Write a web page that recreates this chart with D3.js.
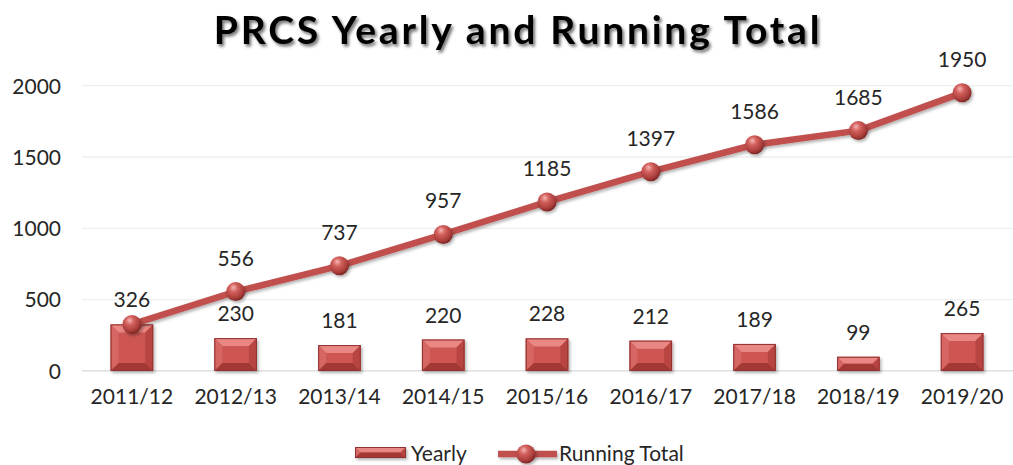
<!DOCTYPE html>
<html><head><meta charset="utf-8">
<script src="https://cdn.jsdelivr.net/npm/d3@7"></script>
<style>
body{margin:0;background:#fff;}
svg{display:block;}
text{font-family:Lato,"Open Sans",sans-serif;fill:#262626;}
</style></head>
<body>
<svg id="c" width="1013" height="465"></svg>
<script>
const categories = ["2011/12","2012/13","2013/14","2014/15","2015/16","2016/17","2017/18","2018/19","2019/20"];
const yearly = [326,230,181,220,228,212,189,99,265];
const runningTotal = [326,556,737,957,1185,1397,1586,1685,1950];
const yTicks = [0,500,1000,1500,2000];
const titleText = "PRCS Yearly and Running Total";
const seriesNames = ["Yearly","Running Total"];

const svg = d3.select("#c");
const defs = svg.append("defs");
const x = d3.scaleBand().domain(categories).range([80,1014]).paddingInner(0.59).paddingOuter(0.295);
const y = d3.scaleLinear().domain([0,2000]).range([370.9,85.7]);
const cx = c => x(c) + x.bandwidth()/2;

// filters & gradients
const ts = defs.append("filter").attr("id","tshadow").attr("x","-10%").attr("y","-30%").attr("width","120%").attr("height","160%");
ts.append("feDropShadow").attr("dx",2).attr("dy",2.5).attr("stdDeviation",1.8).attr("flood-color","#000").attr("flood-opacity",0.55);
const ls = defs.append("filter").attr("id","lshadow").attr("filterUnits","userSpaceOnUse").attr("x",0).attr("y",0).attr("width",1013).attr("height",465);
ls.append("feDropShadow").attr("dx",1.5).attr("dy",2).attr("stdDeviation",1.5).attr("flood-color","#000").attr("flood-opacity",0.3);
const sph = defs.append("radialGradient").attr("id","sphere").attr("cx","40%").attr("cy","35%").attr("r","65%").attr("fx","38%").attr("fy","28%");
sph.append("stop").attr("offset","0%").attr("stop-color","#f6b4b2");
sph.append("stop").attr("offset","35%").attr("stop-color","#d2605d");
sph.append("stop").attr("offset","80%").attr("stop-color","#a83c39");
sph.append("stop").attr("offset","100%").attr("stop-color","#7d2624");

// gridlines
svg.append("g").selectAll("line").data(yTicks).join("line")
  .attr("x1",82).attr("x2",1013).attr("y1",d=>y(d)).attr("y2",d=>y(d))
  .attr("stroke",d=>d===0?"#d9d9d9":"#efefef").attr("stroke-width",1.3);

// y axis labels
const yAxis = d3.axisLeft(y).tickValues(yTicks).tickSize(0).tickPadding(0).tickFormat(d3.format("d"));
const yg = svg.append("g").attr("transform","translate(61,0)").call(yAxis);
yg.select(".domain").remove();
yg.selectAll("text").attr("font-size",21).attr("dy","0.35em").style("font-family","Lato").attr("fill","#262626");

// x axis labels
const xAxis = d3.axisBottom(x).tickSize(0).tickPadding(0);
const xg = svg.append("g").attr("transform","translate(0,389)").call(xAxis);
xg.select(".domain").remove();
xg.selectAll("text").attr("font-size",21).attr("dy","0.71em").style("font-family","Lato").attr("fill","#262626");

// bars with bevel
function bevelBar(g, x0, y0, w, h){
  const b = Math.min(8, h/2, w/2);
  g.append("rect").attr("x",x0).attr("y",y0).attr("width",w).attr("height",h).attr("fill","#cd5653");
  const x1 = x0+w, y1 = y0+h;
  const poly = (pts,fill)=>g.append("polygon").attr("points",pts.map(p=>p.join(",")).join(" ")).attr("fill",fill);
  poly([[x0,y0],[x1,y0],[x1-b,y0+b],[x0+b,y0+b]],"#e98784");
  poly([[x0,y0],[x0+b,y0+b],[x0+b,y1-b],[x0,y1]],"#d66663");
  poly([[x1,y0],[x1,y1],[x1-b,y1-b],[x1-b,y0+b]],"#b94542");
  poly([[x0,y1],[x0+b,y1-b],[x1-b,y1-b],[x1,y1]],"#a33936");
  g.append("rect").attr("x",x0+0.5).attr("y",y0+0.5).attr("width",w-1).attr("height",h-1).attr("fill","none").attr("stroke","#8f3330").attr("stroke-width",1);
}
const barsG = svg.append("g").attr("filter","url(#lshadow)");
categories.forEach((c,i)=>{
  const g = barsG.append("g");
  bevelBar(g, x(c), y(yearly[i]), x.bandwidth(), y(0)-y(yearly[i]));
});

// bar labels
svg.append("g").selectAll("text").data(yearly).join("text")
  .attr("x",(d,i)=>cx(categories[i])).attr("y",d=>y(d)-17)
  .attr("text-anchor","middle").attr("font-size",21).text(d=>d);

// line
const line = d3.line().x((d,i)=>cx(categories[i])).y(d=>y(d));
svg.append("path").datum(runningTotal).attr("d",line).attr("fill","none")
  .attr("stroke","#c0504d").attr("stroke-width",6.5).attr("stroke-linejoin","round").attr("filter","url(#lshadow)");
svg.append("g").selectAll("circle").data(runningTotal).join("circle")
  .attr("cx",(d,i)=>cx(categories[i])).attr("cy",d=>y(d)).attr("r",9.5)
  .attr("fill","url(#sphere)").attr("filter","url(#lshadow)");

// line labels (skip where it coincides with bar label)
svg.append("g").selectAll("text").data(runningTotal.map((v,i)=>({v,i})).filter(d=>d.v!==yearly[d.i])).join("text")
  .attr("x",d=>cx(categories[d.i])).attr("y",d=>y(d.v)-26)
  .attr("text-anchor","middle").attr("font-size",21).text(d=>d.v);

// title
const title = svg.append("text").attr("x",518).attr("y",44).attr("text-anchor","middle")
  .attr("font-size",39).attr("font-weight",700).style("fill","#000").style("letter-spacing","1.5px")
  .attr("filter","url(#tshadow)").text(titleText);
const tw = title.node().getComputedTextLength();
const extra = (607 - tw) / 28;
title.style("letter-spacing", (1.5 + extra) + "px");

// legend
const lg = svg.append("g");
const lb = lg.append("g").attr("filter","url(#lshadow)");
bevelBar(lb, 355, 447, 51, 11);
lg.append("text").attr("x",411).attr("y",461).attr("font-size",21).text(seriesNames[0]);
lg.append("line").attr("x1",498).attr("x2",557).attr("y1",454).attr("y2",454)
  .attr("stroke","#c0504d").attr("stroke-width",6.5).attr("filter","url(#lshadow)");
lg.append("circle").attr("cx",526).attr("cy",454).attr("r",9.5).attr("fill","url(#sphere)").attr("filter","url(#lshadow)");
lg.append("text").attr("x",559).attr("y",461).attr("font-size",21).text(seriesNames[1]);
</script>
</body></html>
